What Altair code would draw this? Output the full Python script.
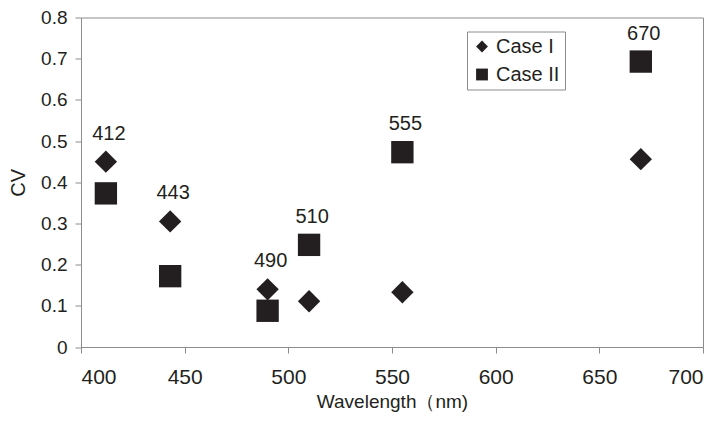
import altair as alt
import pandas as pd

# ---- data ----
wavelengths = [412, 443, 490, 510, 555, 670]
case1_cv = [0.450, 0.305, 0.140, 0.111, 0.133, 0.456]
case2_cv = [0.373, 0.172, 0.088, 0.248, 0.473, 0.693]
series_names = ["Case I", "Case II"]
x_ticks = [400, 450, 500, 550, 600, 650, 700]
y_ticks = [0, 0.1, 0.2, 0.3, 0.4, 0.5, 0.6, 0.7, 0.8]

INK = "#231f20"
GRAY = "#8c8c8c"
FONT = "Liberation Sans"

points = pd.DataFrame({
    "Wavelength": wavelengths * 2,
    "CV": case1_cv + case2_cv,
    "Series": [series_names[0]] * len(wavelengths) + [series_names[1]] * len(wavelengths),
})
labels = pd.DataFrame({
    "Wavelength": wavelengths,
    "CV": [max(a, b) for a, b in zip(case1_cv, case2_cv)],
    "Label": [str(w) for w in wavelengths],
})

x_enc = alt.X(
    "Wavelength:Q",
    scale=alt.Scale(domain=[400, 700], nice=False, zero=False),
    axis=alt.Axis(
        values=x_ticks, title="Wavelength（nm)", labelFontSize=21,
        labelPadding=13, titlePadding=5, titleFontSize=19, format="d",
        grid=False, ticks=True, tickSize=6,
    ),
)
y_enc = alt.Y(
    "CV:Q",
    scale=alt.Scale(domain=[0, 0.8], nice=False),
    axis=alt.Axis(
        values=y_ticks, title="CV", labelFontSize=19, labelPadding=8,
        titlePadding=12, grid=False, ticks=True, tickSize=6,
        labelExpr="datum.value == 0 ? '0' : format(datum.value, '.1f')",
    ),
)

pts = alt.Chart(points).mark_point(
    filled=True, size=500, opacity=1, color=INK
).encode(
    x=x_enc,
    y=y_enc,
    shape=alt.Shape(
        "Series:N",
        scale=alt.Scale(domain=series_names, range=["diamond", "square"]),
        legend=alt.Legend(
            title=None, orient="none", legendX=386, legendY=14,
            padding=5, strokeColor=GRAY, fillColor="white",
            labelFontSize=20, labelFont=FONT, labelColor=INK,
            symbolSize=140, symbolFillColor=INK, symbolStrokeColor=INK,
            symbolStrokeWidth=0, rowPadding=8, labelOffset=4,
        ),
    ),
)

txt = alt.Chart(labels).mark_text(
    dy=-28, dx=3, fontSize=20, font=FONT, color=INK
).encode(
    x=alt.X("Wavelength:Q"),
    y=alt.Y("CV:Q"),
    text="Label:N",
)

chart = (pts + txt).properties(
    width=622, height=329.5,
    background="white",
    autosize=alt.AutoSizeParams(type="none"),
    padding={"left": 73, "top": 9.5, "right": 11, "bottom": 69},
).configure_view(
    stroke=GRAY, strokeWidth=1
).configure_axis(
    domainColor=GRAY, tickColor=GRAY, tickSize=6, grid=False,
    labelFont=FONT, labelColor=INK, titleFont=FONT, titleColor=INK,
    titleFontSize=20, titleFontWeight="normal",
)

chart.save("out.html", embed_options={"renderer": "svg", "actions": False})
